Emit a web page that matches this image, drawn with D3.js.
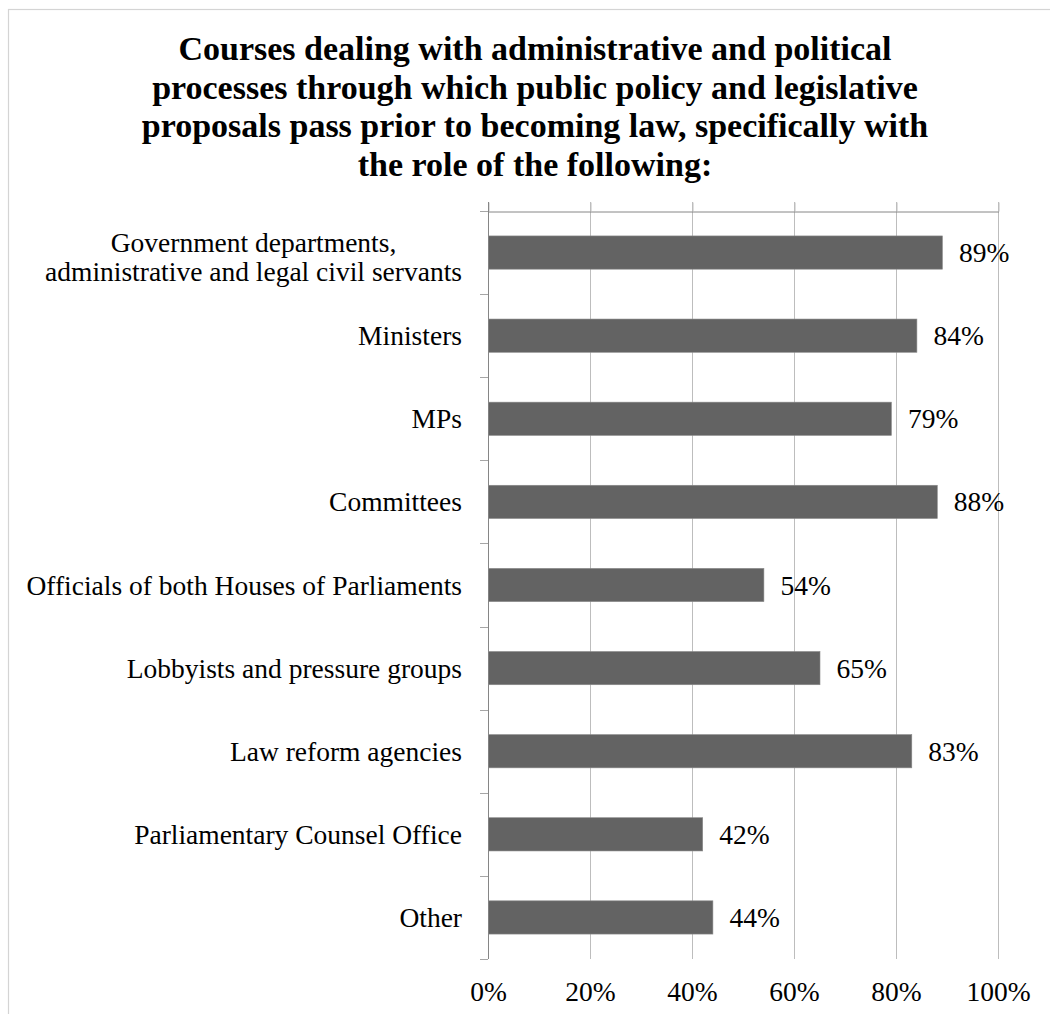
<!DOCTYPE html>
<html>
<head>
<meta charset="utf-8">
<script src="https://cdn.jsdelivr.net/npm/d3@7"></script>
<style>
  html, body { margin: 0; padding: 0; background: #fff; }
  svg { display: block; font-family: "Liberation Serif", "Times New Roman", serif; }
</style>
</head>
<body>
<svg id="chart" width="1050" height="1014"></svg>
<script>
// Survey shares per role (percent of courses)
const categories = [
  "Government departments,|administrative and legal civil servants",
  "Ministers",
  "MPs",
  "Committees",
  "Officials of both Houses of Parliaments",
  "Lobbyists and pressure groups",
  "Law reform agencies",
  "Parliamentary Counsel Office",
  "Other"
];
const values = [89, 84, 79, 88, 54, 65, 83, 42, 44];
const xTicks = [0, 20, 40, 60, 80, 100];
const titleLines = [
  "Courses dealing with administrative and political",
  "processes through which public policy and legislative",
  "proposals pass prior to becoming law, specifically with",
  "the role of the following:"
];

const svg = d3.select("#chart");

// outer chart frame
svg.append("rect")
  .attr("x", 8.5).attr("y", 9.5)
  .attr("width", 1200).attr("height", 1200)
  .attr("fill", "none").attr("stroke", "#d4d4d4").attr("stroke-width", 1.2);

// title
svg.append("g").selectAll("text")
  .data(titleLines)
  .join("text")
  .attr("x", 535)
  .attr("y", (d, i) => 60 + i * 38.5)
  .attr("text-anchor", "middle")
  .attr("font-size", 34)
  .attr("font-weight", "bold")
  .attr("fill", "#000")
  .text(d => d);

const x = d3.scaleLinear().domain([0, 100]).range([488, 998]);
const y = d3.scaleBand().domain(categories).range([211, 959])
  .paddingInner(0.6).paddingOuter(0.3);
const step = y.step();

// vertical gridlines
svg.append("g").selectAll("line")
  .data(xTicks.slice(1))
  .join("line")
  .attr("x1", d => Math.round(x(d)) + 0.5).attr("x2", d => Math.round(x(d)) + 0.5)
  .attr("y1", 202).attr("y2", 959)
  .attr("stroke", "#bdbdbd").attr("stroke-width", 1);

// value axis along the top edge
const topAxis = svg.append("g")
  .attr("transform", "translate(0.5,211.5)")
  .call(d3.axisTop(x).tickValues(xTicks).tickSize(9).tickSizeOuter(0).tickFormat(""));
topAxis.select(".domain").attr("stroke", "#868686");
topAxis.selectAll(".tick line").attr("stroke", "#bdbdbd");

// category axis line
svg.append("line")
  .attr("x1", 488.5).attr("x2", 488.5)
  .attr("y1", 202).attr("y2", 959)
  .attr("stroke", "#868686");

// category boundary ticks
const bounds = categories.map(c => y(c) - y.paddingInner() * step / 2).concat([959]);
svg.append("g").selectAll("line")
  .data(bounds)
  .join("line")
  .attr("x1", 480).attr("x2", 488)
  .attr("y1", d => Math.round(d) + 0.5).attr("y2", d => Math.round(d) + 0.5)
  .attr("stroke", "#a6a6a6");

// bars
svg.append("g").selectAll("rect")
  .data(values)
  .join("rect")
  .attr("x", x(0) + 0.5)
  .attr("y", (d, i) => y(categories[i]))
  .attr("width", d => x(d) - x(0))
  .attr("height", y.bandwidth())
  .attr("fill", "#636363")
  .attr("stroke", "#8a8a8a").attr("stroke-width", 0.6);

// value labels
svg.append("g").selectAll("text")
  .data(values)
  .join("text")
  .attr("x", d => x(d) + 17)
  .attr("y", (d, i) => y(categories[i]) + y.bandwidth() / 2 + 9.5)
  .attr("font-size", 27.5)
  .attr("fill", "#000")
  .text(d => d + "%");

// category labels (multi-line labels are centred on their widest line)
const catG = svg.append("g");
categories.forEach((c, i) => {
  const cy = y(c) + y.bandwidth() / 2;
  const lines = c.split("|");
  if (lines.length === 1) {
    catG.append("text")
      .attr("x", 462).attr("y", cy + 9.5)
      .attr("text-anchor", "end")
      .attr("font-size", 27.5).attr("fill", "#000")
      .text(lines[0]);
  } else {
    const offs = [-10.5, 18.5];
    const texts = lines.map((l, j) => catG.append("text")
      .attr("y", cy + offs[j] + 9.5)
      .attr("font-size", 27.5).attr("fill", "#000")
      .attr("text-anchor", "middle")
      .text(l));
    const widest = Math.max(...texts.map(t => t.node().getComputedTextLength()));
    texts.forEach(t => t.attr("x", 462 - widest / 2));
  }
});

// percentage labels under the plot
const bottomAxis = svg.append("g")
  .attr("transform", "translate(0,959)")
  .call(d3.axisBottom(x).tickValues(xTicks).tickSize(0).tickFormat(d => d + "%"));
bottomAxis.select(".domain").remove();
bottomAxis.selectAll("text")
  .attr("y", 42).attr("dy", 0)
  .attr("font-size", 27.5)
  .attr("font-family", "\"Liberation Serif\", serif")
  .attr("fill", "#000");
</script>
</body>
</html>
